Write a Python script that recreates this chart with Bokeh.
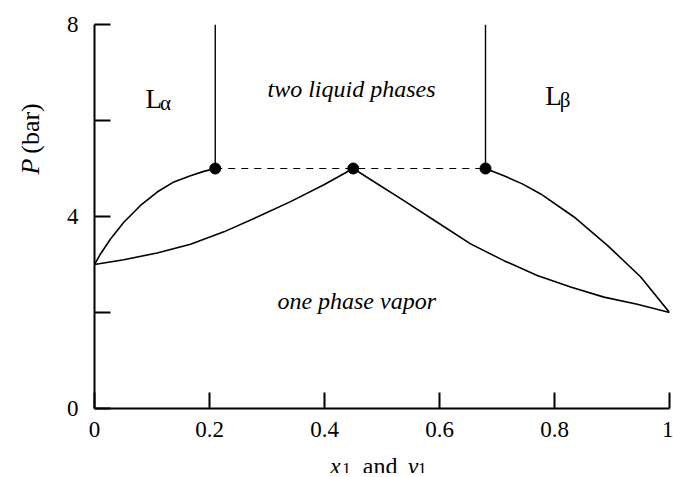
import math
from bokeh.plotting import figure
from bokeh.layouts import row, column
from bokeh.models import Range1d, FixedTicker, Label
from bokeh.embed import file_html
from bokeh.resources import INLINE

# ---- data ----
x_ticks = [0, 0.2, 0.4, 0.6, 0.8, 1]
y_ticks = [0, 2, 4, 6, 8]

# alpha-rich liquid boundary (left)
liq_a_x = [0.0, 0.0104, 0.0278, 0.051, 0.080, 0.109, 0.138, 0.167, 0.190, 0.21]
liq_a_p = [3.0, 3.22, 3.53, 3.88, 4.23, 4.51, 4.72, 4.85, 4.94, 5.0]

# vapor boundary (left branch)
vap_l_x = [0.0, 0.051, 0.109, 0.167, 0.225, 0.283, 0.341, 0.399, 0.45]
vap_l_p = [3.0, 3.10, 3.24, 3.42, 3.68, 3.99, 4.31, 4.66, 5.0]

# vapor boundary (right branch)
vap_r_x = [0.45, 0.48, 0.538, 0.596, 0.654, 0.712, 0.770, 0.828, 0.886, 0.944, 1.0]
vap_r_p = [5.0, 4.77, 4.33, 3.88, 3.43, 3.08, 2.77, 2.53, 2.32, 2.17, 2.0]

# beta-rich liquid boundary (right)
liq_b_x = [0.68, 0.712, 0.744, 0.776, 0.834, 0.892, 0.950, 1.0]
liq_b_p = [5.0, 4.85, 4.68, 4.47, 3.99, 3.40, 2.74, 2.0]

# three-phase line
three_x = [0.21, 0.45, 0.68]
three_p = [5.0, 5.0, 5.0]
p_top = 8.0

FONT = "Liberation Serif"
YW = 60  # width of the y-title strip

# ---- main plot ----
p = figure(width=94 - YW + 575 + 4, height=452, output_backend="svg", toolbar_location=None,
           x_range=Range1d(0, 1), y_range=Range1d(0, 8),
           min_border_left=94 - YW, min_border_right=4, min_border_top=24, min_border_bottom=40)
p.frame_width = 575
p.frame_height = 384
p.outline_line_color = None
p.grid.visible = False
p.background_fill_color = "white"
p.border_fill_color = "white"

for ax in (p.xaxis[0], p.yaxis[0]):
    ax.axis_line_width = 2
    ax.axis_line_color = "black"
    ax.major_tick_line_width = 2
    ax.major_tick_line_color = "black"
    ax.major_tick_in = 16
    ax.major_tick_out = 0
    ax.minor_tick_line_color = None
    ax.major_label_text_font = FONT
    ax.major_label_text_font_size = "23px"
    ax.major_label_text_color = "black"
    ax.axis_label = None
    ax.axis_label_standoff = 0

p.xaxis[0].ticker = FixedTicker(ticks=x_ticks)
p.xaxis[0].major_label_overrides = {0: "0", 1: "1"}
p.xaxis[0].major_label_standoff = 13
p.yaxis[0].ticker = FixedTicker(ticks=y_ticks)
p.yaxis[0].major_label_overrides = {2: "", 6: ""}
p.yaxis[0].major_label_standoff = 16

# curves
lw = 1.6
p.line(liq_a_x, liq_a_p, line_color="black", line_width=lw)
p.line(vap_l_x, vap_l_p, line_color="black", line_width=lw)
p.line(vap_r_x, vap_r_p, line_color="black", line_width=lw)
p.line(liq_b_x, liq_b_p, line_color="black", line_width=lw)

# vertical boundaries
p.segment(x0=[three_x[0], three_x[2]], y0=[three_p[0], three_p[2]],
          x1=[three_x[0], three_x[2]], y1=[p_top, p_top],
          line_color="black", line_width=1.4)
# dashed three-phase line
p.line([three_x[0], three_x[2]], [three_p[0], three_p[2]],
       line_color="black", line_width=1.2, line_dash="7 6")
p.scatter(three_x, three_p, size=11, color="black")


def lab(fig, x, y, t, size, style="normal", align="left", angle=0.0):
    fig.add_layout(Label(x=x, y=y, text=t, text_font=FONT, text_font_size=size,
                         text_font_style=style, text_align=align,
                         text_baseline="alphabetic", angle=angle, text_color="black"))

# region labels
lab(p, 0.447, 6.65, "two liquid phases", "24px", "italic", "center")
lab(p, 0.456, 2.25, "one phase vapor", "24px", "italic", "center")
lab(p, 0.0887, 6.45, "L", "27px")
lab(p, 0.114, 6.37, "\u03b1", "21px")
lab(p, 0.784, 6.51, "L", "27px")
lab(p, 0.809, 6.43, "\u03b2", "21px")


def blank(w, h, xr, yr):
    f = figure(width=w, height=h, output_backend="svg", toolbar_location=None,
               x_axis_type=None, y_axis_type=None, x_range=xr, y_range=yr,
               min_border=0, title=None)
    f.outline_line_color = None
    f.background_fill_color = "white"
    f.border_fill_color = "white"
    return f

# ---- x axis title strip (positions corrected for the measured strip offset) ----
fx = blank(94 - YW + 575 + 4, 25, Range1d(YW, 673), Range1d(477, 452))
lab(fx, 311, 469, "x", "24px", "italic")
lab(fx, 324, 472, "1", "17px")
lab(fx, 346, 469, "and", "24px")
lab(fx, 394, 469, "y", "24px", "italic")
lab(fx, 405, 472, "1", "17px")

# ---- y axis title strip ----
fy = blank(YW, 477, Range1d(0, YW), Range1d(477, 0))
lab(fy, 30, 166, "P", "26px", "italic", "center", angle=math.pi / 2)
lab(fy, 30, 128, "(bar)", "26px", "normal", "center", angle=math.pi / 2)

layout = row(fy, column(p, fx, spacing=0), spacing=0)
open("out.html", "w").write(file_html(layout, INLINE))
